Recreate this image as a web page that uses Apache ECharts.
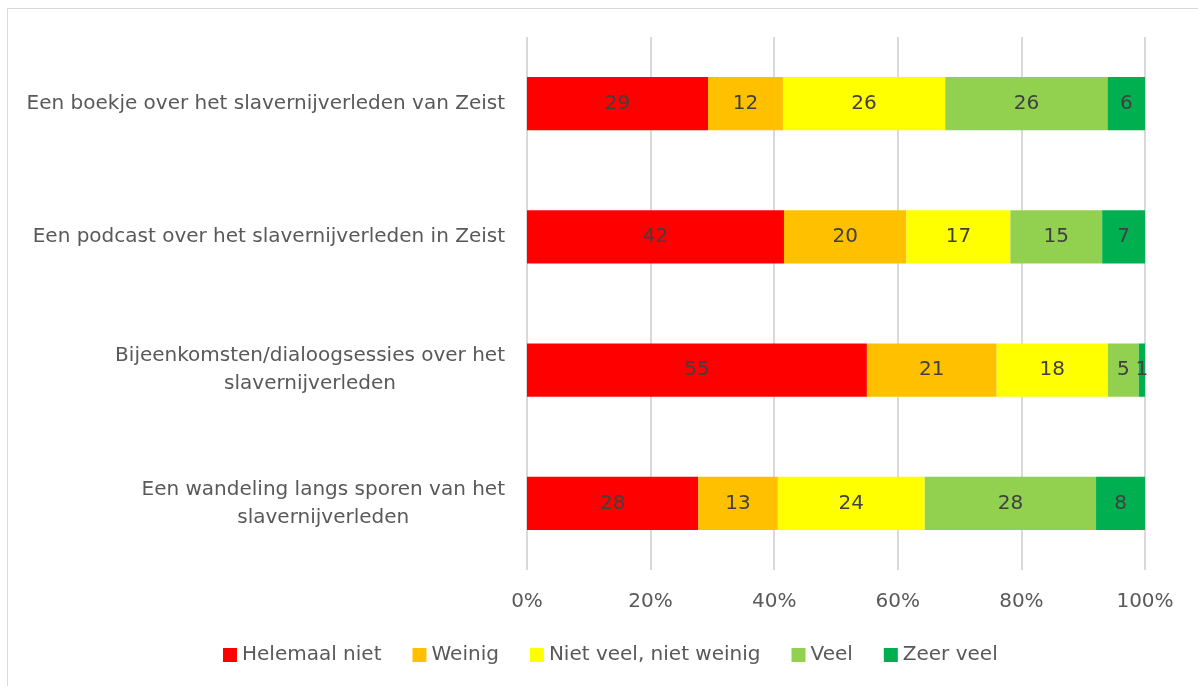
<!DOCTYPE html>
<html>
<head>
<meta charset="utf-8">
<script src="https://cdn.jsdelivr.net/npm/echarts@6/dist/echarts.min.js"></script>
<style>
    html, body { margin: 0; padding: 0; background: #fff; }
    #chart {
        position: absolute; left: 7px; top: 8px;
        width: 1191px; height: 678px;
        border-left: 1px solid #d9d9d9; border-top: 1px solid #d9d9d9;
        box-sizing: border-box;
    }
</style>
</head>
<body>
<div id="chart"></div>
<script>
    const categories = [
        'Een boekje over het slavernijverleden van Zeist',
        'Een podcast over het slavernijverleden in Zeist',
        'Bijeenkomsten/dialoogsessies over het\nslavernijverleden',
        'Een wandeling langs sporen van het\nslavernijverleden'
    ]
    const seriesNames = ['Helemaal niet', 'Weinig', 'Niet veel, niet weinig', 'Veel', 'Zeer veel']
    const colors = ['#FF0000', '#FFC000', '#FFFF00', '#92D050', '#00B050']
    const helemaalNiet = [29, 42, 55, 28]
    const weinig = [12, 20, 21, 13]
    const nietVeel = [26, 17, 18, 24]
    const veel = [26, 15, 5, 28]
    const zeerVeel = [6, 7, 1, 8]
    const xTicks = [0, 20, 40, 60, 80, 100]

    const raw = [helemaalNiet, weinig, nietVeel, veel, zeerVeel]
    // 100% stacked: every row is scaled to its own total
    const totals = categories.map((c, i) => raw.reduce((s, arr) => s + arr[i], 0))

    const font = 'DejaVu Sans'
    const chart = echarts.init(document.getElementById('chart'))
    chart.setOption({
        animation: false,
        grid: { left: 519, right: 53, top: 28, bottom: 116 },
        legend: {
            data: seriesNames,
            bottom: 16,
            left: 210,
            itemWidth: 14,
            itemHeight: 14,
            itemGap: 31,
            icon: 'rect',
            textStyle: { color: '#595959', fontSize: 20, fontFamily: font }
        },
        xAxis: {
            type: 'value',
            min: xTicks[0],
            max: xTicks[xTicks.length - 1],
            interval: 20,
            axisLine: { show: false },
            axisTick: { show: false },
            axisLabel: {
                formatter: '{value}%',
                color: '#595959', fontSize: 20, fontFamily: font, margin: 22
            },
            splitLine: { lineStyle: { color: '#d9d9d9', width: 2 } }
        },
        yAxis: {
            type: 'category',
            data: categories,
            inverse: true,
            axisLine: { show: false },
            axisTick: { show: false },
            axisLabel: {
                margin: 22,
                align: 'right',
                formatter: v => v.split('\n').map(l => '{c|' + l + '}').join('\n'),
                rich: {
                    c: { align: 'center', color: '#595959', fontSize: 20, fontFamily: font, lineHeight: 28 }
                }
            }
        },
        series: raw.map((arr, k) => ({
            name: seriesNames[k],
            type: 'bar',
            stack: 'total',
            barWidth: '40%',
            itemStyle: { color: colors[k] },
            label: {
                show: true,
                color: '#404040',
                fontSize: 20,
                fontFamily: font,
                formatter: p => arr[p.dataIndex]
            },
            data: arr.map((v, i) => v / totals[i] * 100)
        }))
    })
</script>
</body>
</html>
